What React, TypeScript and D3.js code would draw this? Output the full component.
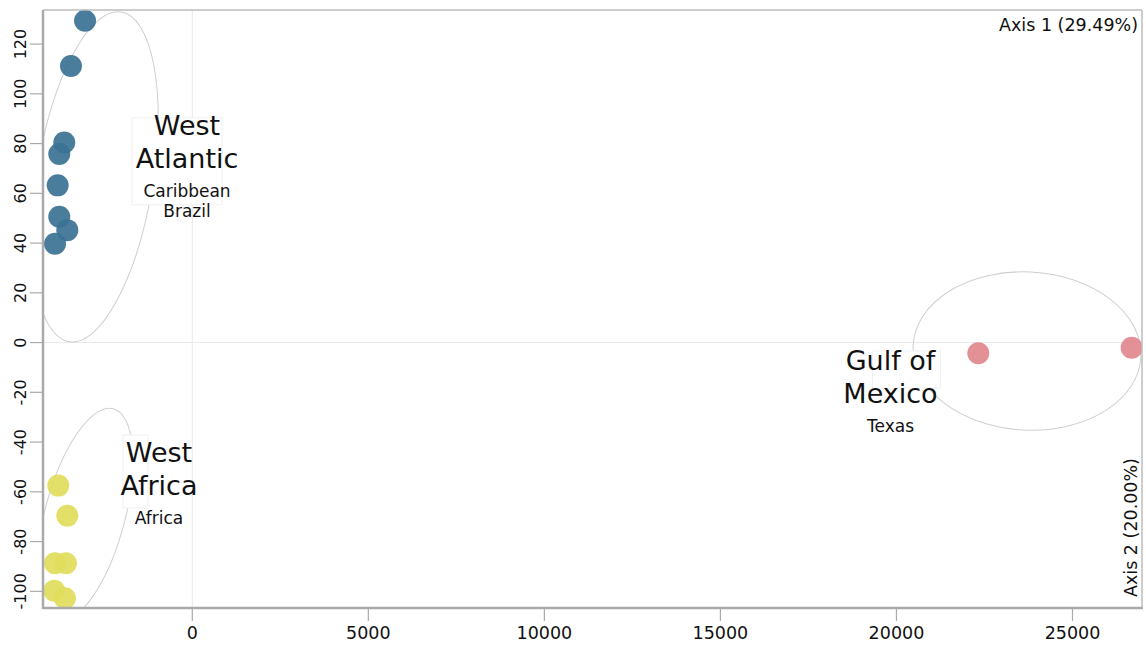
import React from "react";
import * as d3 from "d3";

// ---- data ----
const westAtlanticX = [-3046, -3446, -3636, -3778, -3823, -3778, -3550, -3899];
const westAtlanticY = [129.4, 111.2, 80.4, 75.8, 63.2, 50.6, 45.2, 39.7];
const westAfricaX = [-3806, -3550, -3899, -3587, -3920, -3616];
const westAfricaY = [-57.5, -69.6, -88.7, -88.7, -99.8, -102.8];
const gulfX = [22325, 26681];
const gulfY = [-4.3, -2.1];

const xTicks = [0, 5000, 10000, 15000, 20000, 25000];
const yTicks = [-100, -80, -60, -40, -20, 0, 20, 40, 60, 80, 100, 120];

const groupNames = ["West Atlantic", "West Africa", "Gulf of Mexico"];
const groupTitles = [["West", "Atlantic"], ["West", "Africa"], ["Gulf of", "Mexico"]];
const groupSubtitles = [["Caribbean", "Brazil"], ["Africa"], ["Texas"]];
// ellipse: centre (data), semi-axes (data units), rotation (deg)
const ellipseCx = [-2760, -3048, 23709];
const ellipseCy = [66.6, -69.3, -3.4];
const ellipseRx = [1647, 1136, 3238];
const ellipseRy = [67.1, 44.2, 31.8];
const ellipseRot = [9, 15, 3];
// label anchors (data units): centre x, first baseline y
const labelX = [-150, -946, 19831];
const labelY = [83.5, -48.0, -11.0];

const axis1Label = "Axis 1 (29.49%)";
const axis2Label = "Axis 2 (20.00%)";

// ---- layout / style ----
const W = 1146;
const H = 646;
const left = 43;
const right = 1142;
const top = 10;
const bottom = 608;
const colors = ["#3a7292", "#e1dd5c", "#e1878e"];
const FONT = "Verdana, 'DejaVu Sans', sans-serif";
const labelBoxes = [
  [-55, -17, 90, 87],
  [-36, -27, 25, 73],
  [-18, -19, 68, 37],
];

export default function App() {
  const x = d3.scaleLinear().domain([-4240, 26974]).range([left, right]);
  const y = d3.scaleLinear().domain([-106.7, 133.7]).range([bottom, top]);
  const kx = Math.abs(x(1) - x(0));
  const ky = Math.abs(y(1) - y(0));

  const groups = [
    { xs: westAtlanticX, ys: westAtlanticY },
    { xs: westAfricaX, ys: westAfricaY },
    { xs: gulfX, ys: gulfY },
  ];

  return (
    <svg
      width={W}
      height={H}
      style={{ position: "absolute", left: 0, top: 0, background: "#fff" }}
      fontFamily={FONT}
    >
      <defs>
        <clipPath id="plot">
          <rect x={left} y={top} width={right - left} height={bottom - top} />
        </clipPath>
      </defs>
      {/* zero grid lines */}
      <line x1={x(0)} x2={x(0)} y1={top} y2={bottom} stroke="#e8e8e8" strokeWidth={1} />
      <line x1={left} x2={right} y1={y(0)} y2={y(0)} stroke="#e8e8e8" strokeWidth={1} />

      {/* ellipses */}
      <g clipPath="url(#plot)">
        {groupNames.map((n, i) => (
          <ellipse
            key={n}
            cx={0}
            cy={0}
            rx={ellipseRx[i] * kx}
            ry={ellipseRy[i] * ky}
            transform={`translate(${x(ellipseCx[i])},${y(ellipseCy[i])}) rotate(${ellipseRot[i]})`}
            fill="none"
            stroke="#cfcfcf"
            strokeWidth={1}
          />
        ))}
      </g>

      {/* label boxes */}
      {groupNames.map((n, i) => {
        const b = labelBoxes[i];
        return (
          <rect
            key={"b" + n}
            x={x(labelX[i]) + b[0]}
            y={y(labelY[i]) + b[1]}
            width={b[2]}
            height={b[3]}
            fill="#fff"
            stroke="#f0f0f0"
            strokeWidth={1}
          />
        );
      })}

      {/* points */}
      <g clipPath="url(#plot)">
        {groups.map((g, i) =>
          g.xs.map((v, j) => (
            <circle
              key={i + "-" + j}
              cx={x(v)}
              cy={y(g.ys[j])}
              r={11}
              fill={colors[i]}
              fillOpacity={0.92}
            />
          ))
        )}
      </g>

      {/* group labels */}
      {groupNames.map((n, i) => {
        const cx = x(labelX[i]);
        const by = y(labelY[i]);
        return (
          <g key={"l" + n} textAnchor="middle" fill="#111">
            {groupTitles[i].map((t, k) => (
              <text key={t} x={cx} y={by + k * 33} fontSize={27}>
                {t}
              </text>
            ))}
            {groupSubtitles[i].map((t, k) => (
              <text key={t + k} x={cx} y={by + 33 + 29 + k * 20} fontSize={17}>
                {t}
              </text>
            ))}
          </g>
        );
      })}

      {/* plot frame */}
      <line x1={left} x2={right} y1={top} y2={top} stroke="#bdbdbd" strokeWidth={1.5} />
      <line x1={right} x2={right} y1={top} y2={bottom} stroke="#bdbdbd" strokeWidth={1.5} />
      <line x1={left} x2={left} y1={top} y2={bottom + 1} stroke="#aaaaaa" strokeWidth={2.5} />
      <line x1={left} x2={right + 1} y1={bottom} y2={bottom} stroke="#aaaaaa" strokeWidth={2.5} />

      {/* x axis ticks */}
      {xTicks.map((t) => (
        <g key={"x" + t}>
          <line x1={x(t)} x2={x(t)} y1={bottom} y2={bottom + 13} stroke="#aaaaaa" strokeWidth={1.2} />
          <text x={x(t)} y={639} textAnchor="middle" fontSize={17.5} fill="#111">
            {t}
          </text>
        </g>
      ))}

      {/* y axis ticks */}
      {yTicks.map((t) => (
        <g key={"y" + t}>
          <line x1={left - 13} x2={left} y1={y(t)} y2={y(t)} stroke="#aaaaaa" strokeWidth={1.2} />
          <text
            transform={`translate(25.5,${y(t)}) rotate(-90)`}
            textAnchor="middle"
            fontSize={16}
            fill="#111"
          >
            {t}
          </text>
        </g>
      ))}

      {/* axis names */}
      <text x={1138} y={31} textAnchor="end" fontSize={17.5} fill="#111">
        {axis1Label}
      </text>
      <text transform="translate(1137,597) rotate(-90)" textAnchor="start" fontSize={17.5} fill="#111">
        {axis2Label}
      </text>
    </svg>
  );
}
